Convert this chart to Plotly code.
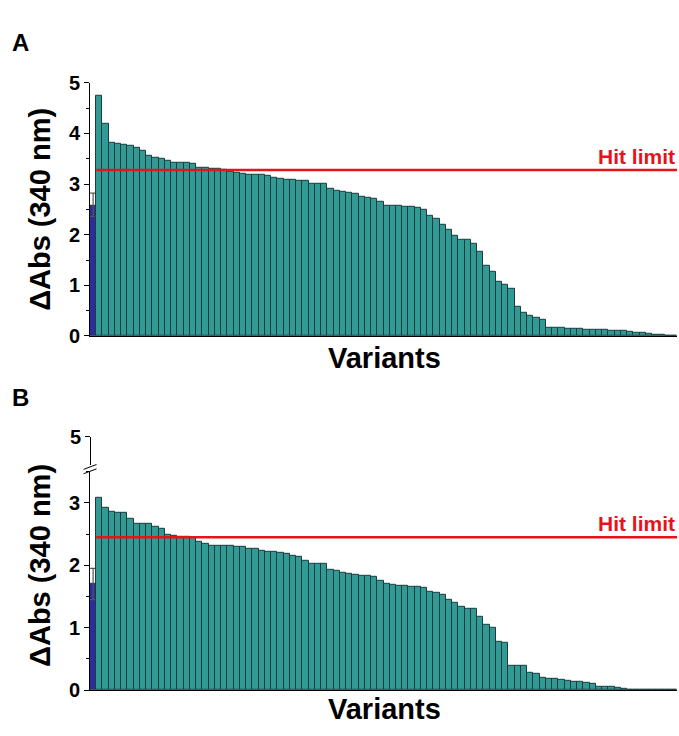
import plotly.graph_objects as go

W, H = 679, 736

# ---------------- data ----------------
control_A = 2.58
control_A_err_up = 0.24
control_A_err_down = 0.22
variants_A = [4.74, 4.19, 3.81, 3.80, 3.77, 3.75, 3.72, 3.66, 3.56, 3.52, 3.50, 3.45,
              3.43, 3.43, 3.42, 3.40, 3.33, 3.32, 3.31, 3.30, 3.29, 3.24, 3.22, 3.21,
              3.19, 3.18, 3.18, 3.16, 3.12, 3.10, 3.09, 3.09, 3.06, 3.06, 3.01, 3.00,
              3.00, 2.91, 2.86, 2.84, 2.82, 2.80, 2.75, 2.73, 2.70, 2.66, 2.58, 2.58,
              2.57, 2.56, 2.56, 2.53, 2.50, 2.38, 2.31, 2.20, 2.09, 1.98, 1.89, 1.89,
              1.82, 1.67, 1.39, 1.26, 1.07, 1.02, 0.94, 0.57, 0.46, 0.40, 0.35, 0.32,
              0.17, 0.16, 0.16, 0.15, 0.15, 0.14, 0.13, 0.13, 0.13, 0.12, 0.11, 0.10,
              0.10, 0.08, 0.07, 0.06, 0.04, 0.03, 0.02, 0.01, 0.0]
hit_limit_A = 3.28

control_B = 1.70
control_B_err_up = 0.25
control_B_err_down = 0.25
variants_B = [3.08, 2.93, 2.86, 2.84, 2.84, 2.74, 2.67, 2.66, 2.66, 2.62, 2.58, 2.49,
              2.47, 2.46, 2.46, 2.44, 2.38, 2.35, 2.32, 2.32, 2.32, 2.31, 2.29, 2.29,
              2.27, 2.27, 2.24, 2.22, 2.21, 2.20, 2.19, 2.16, 2.14, 2.08, 2.03, 2.02,
              2.02, 1.93, 1.92, 1.88, 1.86, 1.85, 1.84, 1.83, 1.82, 1.76, 1.70, 1.69,
              1.68, 1.67, 1.66, 1.65, 1.64, 1.57, 1.56, 1.53, 1.44, 1.40, 1.33, 1.30,
              1.30, 1.17, 1.04, 1.00, 0.77, 0.76, 0.39, 0.39, 0.39, 0.27, 0.26, 0.20,
              0.18, 0.18, 0.16, 0.15, 0.14, 0.13, 0.12, 0.10, 0.06, 0.05, 0.05, 0.04,
              0.02, 0.0, 0.0, 0.0, 0.0, 0.0, 0.0, 0.0, 0.0]
hit_limit_B = 2.45

y_ticks_A = [0, 1, 2, 3, 4, 5]
y_ticks_B_low = [0, 1, 2, 3]
y_ticks_B_high = [5]

# ---------------- styles ----------------
TEAL = "#319A94"
BLUE = "#2C2C9E"
OUTLINE = "#1B3B3C"
RED = "#E5141C"
FONT = "Liberation Sans, Arial, sans-serif"

N = 1 + len(variants_A)
NB = 1 + len(variants_B)


def px_x(p):
    return p / W


def px_y(p):
    return 1 - p / H


fig = go.Figure()

# Panel A
fig.add_trace(go.Bar(x=[0], y=[control_A], marker=dict(color=BLUE, line=dict(color=OUTLINE, width=1)),
                     error_y=dict(type="data", array=[control_A_err_up], arrayminus=[control_A_err_down],
                                  color="#555555", thickness=1.2, width=3),
                     xaxis="x", yaxis="y", showlegend=False))
fig.add_trace(go.Bar(x=list(range(1, N)), y=variants_A,
                     marker=dict(color=TEAL, line=dict(color=OUTLINE, width=1)),
                     xaxis="x", yaxis="y", showlegend=False))

# Panel B
fig.add_trace(go.Bar(x=[0], y=[control_B], marker=dict(color=BLUE, line=dict(color=OUTLINE, width=1)),
                     error_y=dict(type="data", array=[control_B_err_up], arrayminus=[control_B_err_down],
                                  color="#555555", thickness=1.2, width=3),
                     xaxis="x2", yaxis="y2", showlegend=False))
fig.add_trace(go.Bar(x=list(range(1, NB)), y=variants_B,
                     marker=dict(color=TEAL, line=dict(color=OUTLINE, width=1)),
                     xaxis="x2", yaxis="y2", showlegend=False))

xdom = [px_x(90), px_x(677)]
tickfont = dict(family=FONT, size=20, color="black", weight="bold")

common_y = dict(showgrid=False, zeroline=False, showline=True, linecolor="black", linewidth=1,
                ticks="outside", ticklen=5, tickwidth=1, tickcolor="black", tickfont=tickfont)
common_x = dict(showgrid=False, zeroline=False, showline=True, linecolor="black", linewidth=1,
                showticklabels=False, ticks="", fixedrange=True)

fig.update_layout(
    width=W, height=H,
    margin=dict(l=0, r=0, t=0, b=0),
    paper_bgcolor="white", plot_bgcolor="white",
    bargap=0,
    barmode="overlay",
    xaxis=dict(domain=xdom, range=[-0.5, N - 0.5], anchor="y", **common_x),
    yaxis=dict(domain=[px_y(335), px_y(74)], range=[0, 5], anchor="x", tickvals=y_ticks_A,
               minor=dict(dtick=0.5, ticklen=3, ticks="outside", tickcolor="black"), **common_y),
    xaxis2=dict(domain=xdom, range=[-0.5, NB - 0.5], anchor="y2", **common_x),
    yaxis2=dict(domain=[px_y(700), px_y(475)], range=[0, 3.5], anchor="x2", tickvals=y_ticks_B_low,
                minor=dict(dtick=0.5, ticklen=3, ticks="outside", tickcolor="black"), **common_y),
    yaxis3=dict(domain=[px_y(468), px_y(439)], range=[4.6, 5], anchor="free", position=px_x(90),
                tickvals=y_ticks_B_high, **common_y),
    font=dict(family=FONT, color="black"),
)

# dummy trace so yaxis3 is shown
fig.add_trace(go.Scatter(x=[None], y=[None], xaxis="x2", yaxis="y3", showlegend=False, hoverinfo="skip"))

shapes = []
# hit limit lines
shapes.append(dict(type="line", xref="x", yref="y", x0=0.5, x1=N - 0.5, y0=hit_limit_A, y1=hit_limit_A,
                   line=dict(color=RED, width=2.5), layer="above"))
shapes.append(dict(type="line", xref="x2", yref="y2", x0=0.5, x1=NB - 0.5, y0=hit_limit_B, y1=hit_limit_B,
                   line=dict(color=RED, width=2.5), layer="above"))
# axis break marks
for dy in (0, 4.5):
    shapes.append(dict(type="line", xref="paper", yref="paper",
                       x0=px_x(83.5), x1=px_x(96.5), y0=px_y(472.5 + dy), y1=px_y(467.5 + dy),
                       line=dict(color="black", width=1)))
fig.update_layout(shapes=shapes)

title_font = dict(family=FONT, size=29, color="black", weight="bold")
ann = []
ann.append(dict(text="A", x=px_x(10), y=px_y(32), xref="paper", yref="paper", xanchor="left", yanchor="middle",
                showarrow=False, font=dict(family=FONT, size=24, color="black", weight="bold")))
ann.append(dict(text="B", x=px_x(10), y=px_y(398), xref="paper", yref="paper", xanchor="left", yanchor="middle",
                showarrow=False, font=dict(family=FONT, size=24, color="black", weight="bold")))
ann.append(dict(text="ΔAbs (340 nm)", x=px_x(40), y=px_y(205), xref="paper", yref="paper", textangle=-90,
                xanchor="center", yanchor="middle", showarrow=False, font=title_font))
ann.append(dict(text="ΔAbs (340 nm)", x=px_x(40), y=px_y(572), xref="paper", yref="paper", textangle=-90,
                xanchor="center", yanchor="middle", showarrow=False, font=title_font))
ann.append(dict(text="Variants", x=px_x(384), y=px_y(358), xref="paper", yref="paper",
                xanchor="center", yanchor="middle", showarrow=False, font=title_font))
ann.append(dict(text="Variants", x=px_x(384), y=px_y(719), xref="paper", yref="paper",
                xanchor="center", yanchor="middle", showarrow=False, font=title_font))
hit_font = dict(family=FONT, size=21, color=RED, weight="bold")
ann.append(dict(text="Hit limit", x=N - 0.5, y=hit_limit_A, xref="x", yref="y", xanchor="right",
                yanchor="bottom", yshift=0, showarrow=False, font=hit_font))
ann.append(dict(text="Hit limit", x=NB - 0.5, y=hit_limit_B, xref="x2", yref="y2", xanchor="right",
                yanchor="bottom", yshift=0, showarrow=False, font=hit_font))
fig.update_layout(annotations=ann)

fig.write_html("out.html")
